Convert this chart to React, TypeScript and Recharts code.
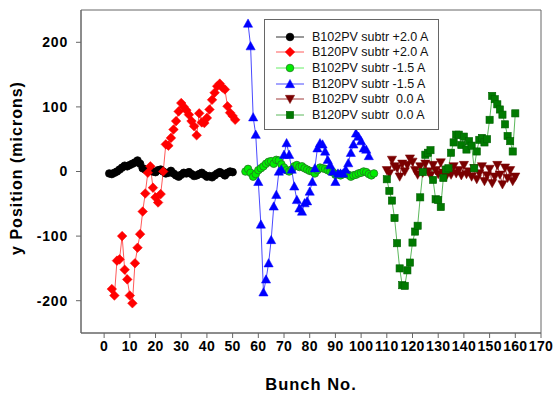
import { LineChart, Line, XAxis, YAxis, ReferenceArea, Legend, Label } from "recharts";

// bunch-number axis ticks and y ticks
const xTicks = [0, 10, 20, 30, 40, 50, 60, 70, 80, 90, 100, 110, 120, 130, 140, 150, 160, 170];
const yTicks = [-200, -100, 0, 100, 200];

// each series: first bunch number, then y position (microns) per consecutive bunch
const b102Plus20Start = 2;
const b102Plus20 = [
  -3, -4, -2, 0, 3, 6, 9, 8, 10, 12, 14, 17, 12, 5, 3, 2, 4, 0, -1, 2,
  3, 0, -3, -2, 1, -3, -6, -8, -5, -2, -3, -1, -4, -7, -6, -4, -2, -5, -8, -7,
  -9, -6, -3, -1, -3, -6, -2, 0, -1,
];

const b120Plus20Start = 3;
const b120Plus20 = [
  -182, -192, -138, -136, -100, -152, -167, -192, -204, -142, -118, -97, -62, -34, -2, 8, -25, -40, -48, -35,
  0, 42, 40, 52, 65, 78, 93, 106, 100, 95, 88, 78, 70, 56, 90, 76, 75, 83, 96, 111,
  122, 132, 136, 130, 127, 101, 91, 86, 80,
];

const b102Minus15Start = 55;
const b102Minus15 = [
  0, 4, -2, -8, -4, 2, 5, 8, 12, 15, 16, 12, 18, 17, 11, 6, 2, 0, 3, 8,
  10, 7, 8, 5, 3, 1, 0, -3, 2, 6, 5, 4, 2, 0, -1, -5, -4, -6, -4, -3,
  -5, -8, -6, -5, -3, -2, 0, -1, -4, -6, -3,
];

const b120Minus15Start = 56;
const b120Minus15 = [
  229, 194, 84, 57, -16, -82, -187, -167, -142, -106, -54, -36, 0, 3, 26, 44, 26, 3, -23, -44,
  -57, -62, -49, -46, -31, -16, 5, 36, 44, 42, 31, 18, 10, 0, -16, -3, -3, -3, 3, 13,
  29, 42, 59, 54, 47, 36, 34, 24,
];

const b102ZeroStart = 110;
const b102Zero = [
  2, -3, 18, 8, 5, -8, 12, 0, 10, 20, 15, 2, -5, 8, -2, 12, 0, -6, 10, 2,
  -4, 14, -2, -8, 3, -5, 8, -3, 2, -6, 10, -4, 0, -8, 5, -12, -3, 8, -15, -6,
  4, -18, -8, 10, -5, -20, 6, -10, 2, -15, -8,
];

const b120ZeroStart = 110;
const b120Zero = [
  -12, -30, -45, -72, -111, -150, -176, -177, -153, -141, -110, -93, -84, -40, -1, 26, 29, 33, -13, -43,
  -44, -55, -10, 3, 5, 29, 45, 57, 57, 41, 54, 34, 47, 40, 5, 31, 49, 52, 45, 50,
  80, 117, 112, 104, 96, 88, 73, 55, 47, 31, 90,
];

type Shape = "circle" | "diamond" | "triangle" | "triangleDown" | "square";

interface Series {
  name: string;
  start: number;
  values: number[];
  shape: Shape;
  fill: string;
  stroke: string;
  line: string;
}

const series: Series[] = [
  { name: "B102PV subtr +2.0 A", start: b102Plus20Start, values: b102Plus20, shape: "circle", fill: "#000000", stroke: "#000000", line: "#333333" },
  { name: "B120PV subtr +2.0 A", start: b120Plus20Start, values: b120Plus20, shape: "diamond", fill: "#ff0000", stroke: "#ff0000", line: "#ff5a5a" },
  { name: "B102PV subtr -1.5 A", start: b102Minus15Start, values: b102Minus15, shape: "circle", fill: "#00ee00", stroke: "#227722", line: "#66ee66" },
  { name: "B120PV subtr -1.5 A", start: b120Minus15Start, values: b120Minus15, shape: "triangle", fill: "#0000ff", stroke: "#0000ff", line: "#4a4aff" },
  { name: "B102PV subtr  0.0 A", start: b102ZeroStart, values: b102Zero, shape: "triangleDown", fill: "#7a0000", stroke: "#7a0000", line: "#a03a3a" },
  { name: "B120PV subtr  0.0 A", start: b120ZeroStart, values: b120Zero, shape: "square", fill: "#007a00", stroke: "#006000", line: "#5cb85c" },
];

function Marker({ shape, cx, cy, fill, stroke }: { shape: Shape; cx: number; cy: number; fill: string; stroke: string }) {
  if (shape === "circle") return <circle cx={cx} cy={cy} r={3.8} fill={fill} stroke={stroke} strokeWidth={0.8} />;
  if (shape === "diamond") {
    const s = 4.8;
    return <polygon points={`${cx},${cy - s} ${cx + s},${cy} ${cx},${cy + s} ${cx - s},${cy}`} fill={fill} stroke={stroke} strokeWidth={0.5} />;
  }
  if (shape === "triangle") {
    const s = 4.6;
    return <polygon points={`${cx},${cy - s} ${cx + s},${cy + s * 0.8} ${cx - s},${cy + s * 0.8}`} fill={fill} stroke={stroke} strokeWidth={0.5} />;
  }
  if (shape === "triangleDown") {
    const s = 4.6;
    return <polygon points={`${cx},${cy + s} ${cx + s},${cy - s * 0.8} ${cx - s},${cy - s * 0.8}`} fill={fill} stroke={stroke} strokeWidth={0.5} />;
  }
  return <rect x={cx - 3.6} y={cy - 3.6} width={7.2} height={7.2} fill={fill} stroke={stroke} strokeWidth={0.6} />;
}

function LegendBox() {
  return (
    <div
      style={{
        width: 175,
        height: 111,
        boxSizing: "border-box",
        border: "1px solid #666",
        background: "#fff",
        paddingTop: 9,
        paddingLeft: 10,
        fontFamily: "'Liberation Sans', Arial, sans-serif",
        fontSize: 12.5,
        color: "#111",
      }}
    >
      {series.map((s) => (
        <div key={s.name} style={{ display: "flex", alignItems: "center", height: 15.6 }}>
          <svg width={30} height={12}>
            <line x1={1} y1={6} x2={29} y2={6} stroke={s.line} strokeWidth={1} />
            <Marker shape={s.shape} cx={15} cy={6} fill={s.fill} stroke={s.stroke} />
          </svg>
          <span style={{ marginLeft: 7, whiteSpace: "pre" }}>{s.name}</span>
        </div>
      ))}
    </div>
  );
}

const tickStyle = { fill: "#000", fontWeight: "bold" as const, fontFamily: "'Liberation Sans', Arial, sans-serif" };

export default function App() {
  return (
    <div style={{ position: "absolute", left: 0, top: 0, width: 556, height: 393, background: "#fff", fontFamily: "'Liberation Sans', Arial, sans-serif" }}>
      <LineChart width={556} height={393} margin={{ top: 10, right: 15, bottom: 0, left: 0 }}>
        <XAxis
          type="number"
          dataKey="bunch"
          domain={[-9, 170]}
          ticks={xTicks}
          interval={0}
          allowDataOverflow
          height={60}
          tickSize={5}
          tickMargin={3}
          stroke="#666"
          tick={{ ...tickStyle, fontSize: 14, letterSpacing: 0.3 }}
        >
          <Label
            content={() => (
              <text x={311} y={390} textAnchor="middle" fontWeight="bold" fontSize={16.5} letterSpacing={1} fill="#000">
                Bunch No.
              </text>
            )}
          />
        </XAxis>
        <YAxis
          type="number"
          domain={[-250, 250]}
          ticks={yTicks}
          allowDataOverflow
          width={81}
          tickSize={5}
          tickMargin={8}
          stroke="#666"
          tick={{ ...tickStyle, fontSize: 14, letterSpacing: 0.8 }}
        >
          <Label
            content={() => (
              <text
                x={22}
                y={168}
                transform="rotate(-90, 22, 168)"
                textAnchor="middle"
                fontWeight="bold"
                fontSize={16}
                letterSpacing={1}
                fill="#000"
              >
                y Position (microns)
              </text>
            )}
          />
        </YAxis>
        <ReferenceArea x1={-9} x2={170} y1={-250} y2={250} fill="none" stroke="#666" strokeWidth={1} ifOverflow="visible" />
        {series.map((s) => (
          <Line
            key={s.name}
            name={s.name}
            data={s.values.map((y, i) => ({ bunch: s.start + i, y }))}
            dataKey="y"
            type="linear"
            stroke={s.line}
            strokeWidth={1}
            isAnimationActive={false}
            dot={(p: any) => <Marker key={`${s.name}-${p.index}`} shape={s.shape} cx={p.cx} cy={p.cy} fill={s.fill} stroke={s.stroke} />}
            activeDot={false}
          />
        ))}
        <Legend
          layout="vertical"
          align="center"
          verticalAlign="middle"
          wrapperStyle={{ left: 264, top: 19, width: 175 }}
          content={() => <LegendBox />}
        />
      </LineChart>
    </div>
  );
}
